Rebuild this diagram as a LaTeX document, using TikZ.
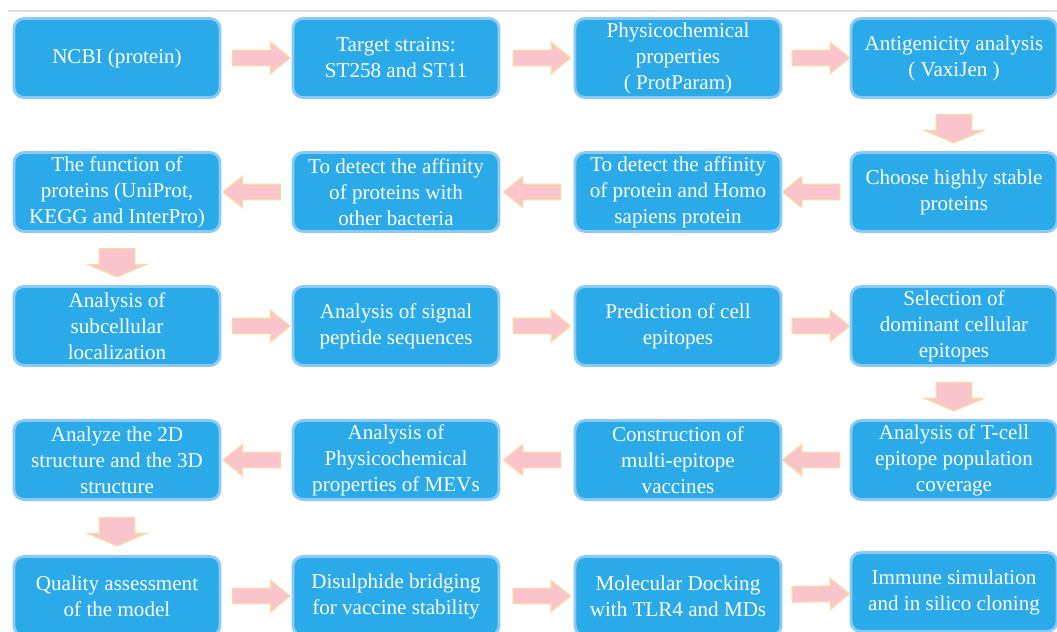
\documentclass[tikz,border=0pt]{standalone}
\usepackage{fontspec}
\setmainfont{Liberation Serif}
\usetikzlibrary{shapes.arrows}

\definecolor{boxblue}{RGB}{42,170,233}
\definecolor{glowblue}{RGB}{140,202,246}
\definecolor{arrowpink}{RGB}{249,196,204}
\definecolor{arroworange}{RGB}{251,214,168}

\tikzset{
  stepbox/.style={rectangle, rounded corners=0.25cm, fill=boxblue, draw=glowblue,
    line width=2pt, text=white, minimum width=5.15cm, minimum height=1.975cm,
    inner sep=0pt, align=center, font=\rmfamily\fontsize{15}{18.5}\selectfont},
  harrow/.style={single arrow, fill=arrowpink, draw=arroworange, line width=1pt,
    inner xsep=0pt, inner ysep=0.175cm, minimum height=1.425cm, minimum width=0pt,
    single arrow head extend=0.19cm, single arrow tip angle=78,
    sloped, allow upside down},
  varrow/.style={harrow, inner ysep=0.425cm, minimum height=0.7cm,
    single arrow head extend=0.275cm, single arrow tip angle=134}
}

\begin{document}
\begin{tikzpicture}[x=0.025cm, y=-0.025cm]
    \useasboundingbox (0,0) rectangle (1057,631);

    % top rule
    \draw[gray!25, line width=0.8pt] (8,11) -- (1057,11);

    % row 1
    \node[stepbox] (ncbi)     at (117,58) {NCBI (protein)};
    \node[stepbox] (strains)  at (396,58) {Target strains:\\ST258 and ST11};
    \node[stepbox] (physchem) at (678,58) {Physicochemical\\properties\\( ProtParam)};
    \node[stepbox] (antigen)  at (954,58) {Antigenicity analysis\\( VaxiJen )};

    % row 2
    \node[stepbox] (stable)   at (954,192) {Choose highly stable\\proteins};
    \node[stepbox] (homo)     at (678,192) {To detect the affinity\\of protein and Homo\\sapiens protein};
    \node[stepbox] (bacteria) at (396,192) {To detect the affinity\\of proteins with\\other bacteria};
    \node[stepbox] (function) at (117,192) {The function of\\proteins (UniProt,\\KEGG and InterPro)};

    % row 3
    \node[stepbox] (subcell)  at (117,326) {Analysis of\\subcellular\\localization};
    \node[stepbox] (signal)   at (396,326) {Analysis of signal\\peptide sequences};
    \node[stepbox] (predict)  at (678,326) {Prediction of cell\\epitopes};
    \node[stepbox] (dominant) at (954,326) {Selection of\\dominant cellular\\epitopes};

    % row 4
    \node[stepbox] (coverage)  at (954,460) {Analysis of T-cell\\epitope population\\coverage};
    \node[stepbox] (construct) at (678,460) {Construction of\\multi-epitope\\vaccines};
    \node[stepbox] (mevprops)  at (396,460) {Analysis of\\Physicochemical\\properties of MEVs};
    \node[stepbox] (struct)    at (117,460) {Analyze the 2D\\structure and the 3D\\structure};

    % row 5
    \node[stepbox] (quality)    at (117,596) {Quality assessment\\of the model};
    \node[stepbox] (disulphide) at (396,596) {Disulphide bridging\\for vaccine stability};
    \node[stepbox] (docking)    at (678,596) {Molecular Docking\\with TLR4 and MDs};
    \node[stepbox] (immune)     at (954,592) {Immune simulation\\and in silico cloning};

    % arrows
    \path (ncbi) -- node[harrow] {} (strains);
    \path (strains) -- node[harrow] {} (physchem);
    \path (physchem) -- node[harrow] {} (antigen);
    \path (antigen) -- node[varrow] {} (stable);
    \path (stable) -- node[harrow] {} (homo);
    \path (homo) -- node[harrow] {} (bacteria);
    \path (bacteria) -- node[harrow] {} (function);
    \path (function) -- node[varrow] {} (subcell);
    \path (subcell) -- node[harrow] {} (signal);
    \path (signal) -- node[harrow] {} (predict);
    \path (predict) -- node[harrow] {} (dominant);
    \path (dominant) -- node[varrow] {} (coverage);
    \path (coverage) -- node[harrow] {} (construct);
    \path (construct) -- node[harrow] {} (mevprops);
    \path (mevprops) -- node[harrow] {} (struct);
    \path (struct) -- node[varrow] {} (quality);
    \path (quality) -- node[harrow] {} (disulphide);
    \path (disulphide) -- node[harrow] {} (docking);
    \path (docking) -- node[harrow] {} (immune);
\end{tikzpicture}
\end{document}
